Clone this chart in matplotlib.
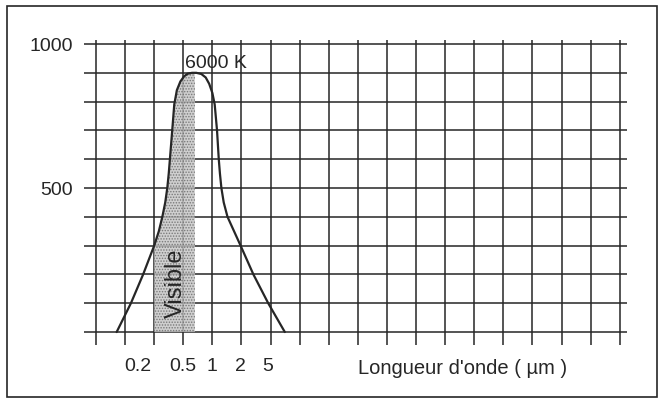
import numpy as np
import matplotlib
matplotlib.use('Agg')
import matplotlib.pyplot as plt
from matplotlib.patches import Rectangle

plt.rcParams['font.family'] = ['Liberation Sans', 'DejaVu Sans']
plt.rcParams['hatch.linewidth'] = 0.7

# courbe 6000 K (position sur la grille, valeur)
pos = [0.71, 1.20, 1.62, 2.00, 2.16, 2.28, 2.38, 2.45, 2.50, 2.54, 2.62, 2.69, 2.78, 2.90,
       3.03, 3.15, 3.30, 3.45, 3.62, 3.77, 3.89, 4.00, 4.08, 4.16, 4.22, 4.26, 4.31,
       4.39, 4.52, 4.97, 5.41, 5.92, 6.49]
vals = [0, 100, 200, 300, 350, 400, 450, 500, 550, 600, 700, 790, 840, 870,
        888, 897, 900, 900, 896, 884, 862, 830, 790, 700, 600, 550, 500,
        450, 400, 300, 200, 100, 0]

# bande visible
vis_lo, vis_hi = 2.0, 3.40

# graduations
xtick_pos = [1.45, 3, 4, 4.95, 5.9]
xtick_lab = ['0.2', '0.5', '1', '2', '5']
ytick_pos = [500, 1000]
grid_x = list(range(19))
grid_y = list(range(0, 1001, 100))

ink = '#262626'

fig = plt.figure(figsize=(6.59, 4.01), dpi=100)
ax = fig.add_axes([84 / 659, 56 / 401, 543 / 659, 305 / 401])
xmin, xmax = -0.412, 18.25
ymin, ymax = -45, 1014
ax.set_xlim(xmin, xmax)
ax.set_ylim(ymin, ymax)

# grille
ax.vlines(grid_x, ymin, ymax, color=ink, lw=1.1, zorder=1)
ax.hlines(grid_y, xmin, xmax, color=ink, lw=1.1, zorder=1)
ax.tick_params(which='both', length=0)
for s in ax.spines.values():
    s.set_visible(False)

ax.set_xticks(xtick_pos, xtick_lab)
ax.set_yticks(ytick_pos, [str(v) for v in ytick_pos])
ax.tick_params(axis='x', labelsize=14, pad=9.5, labelcolor=ink)
ax.tick_params(axis='y', labelsize=14, pad=8, labelcolor=ink)

# zone visible
xs = np.linspace(vis_lo, vis_hi, 120)
ax.fill_between(xs, 0, np.interp(xs, pos, vals), facecolor='#c4c4c4',
                edgecolor='#666666', hatch='......', lw=0, alpha=0.8, zorder=3)

ax.plot(pos, vals, color=ink, lw=1.6, zorder=4, solid_capstyle='round',
        solid_joinstyle='round')

ax.text(2.74, 170, 'Visible', rotation=90, fontsize=17, color=ink,
        ha='center', va='center', zorder=5)
ax.text(3.05, 932, '6000 K', fontsize=14, color=ink, ha='left', va='center', zorder=5)
ax.text(9.0, -0.078, "Longueur d'onde ( \u00b5m )", fontsize=14.5, color=ink,
        ha='left', va='center', transform=ax.get_xaxis_transform())

# cadre
fig.patches.append(Rectangle((7 / 659, 4 / 401), 650 / 659, 391 / 401,
                             transform=fig.transFigure, fill=False, lw=1.2, ec=ink))

plt.savefig('out.png', dpi=100)
